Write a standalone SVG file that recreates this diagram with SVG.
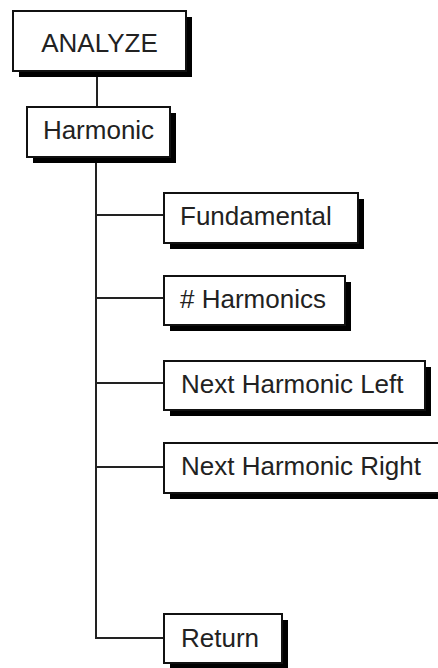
<svg xmlns="http://www.w3.org/2000/svg" width="438" height="668" viewBox="0 0 438 668">
<style>
.box{fill:#fff;stroke:#111;stroke-width:2}
.sh{fill:#000}
.t{font-family:"Liberation Sans",Arial,sans-serif;font-size:26px;fill:#222}
.c{stroke:#222;stroke-width:2;fill:none}
</style>
<rect width="438" height="668" fill="#fff"/>
<g id="connectors">
<line class="c" x1="97" y1="71" x2="97" y2="107"/>
<polyline class="c" points="96,157 96,638 164,638"/>
<line class="c" x1="96" y1="215" x2="164" y2="215"/>
<line class="c" x1="96" y1="298" x2="164" y2="298"/>
<line class="c" x1="96" y1="383" x2="164" y2="383"/>
<line class="c" x1="96" y1="467" x2="164" y2="467"/>
</g>
<g id="analyze">
<rect class="sh" x="19" y="17" width="173" height="60"/>
<rect class="box" x="13" y="11" width="173" height="60"/>
<text class="t" x="99.5" y="52" text-anchor="middle">ANALYZE</text>
</g>
<g id="harmonic">
<rect class="sh" x="33" y="113" width="143" height="50"/>
<rect class="box" x="27" y="107" width="143" height="50"/>
<text class="t" x="98.5" y="139" text-anchor="middle">Harmonic</text>
</g>
<g id="fundamental">
<rect class="sh" x="170" y="199" width="194" height="50"/>
<rect class="box" x="164" y="193" width="194" height="50"/>
<text class="t" x="180" y="225">Fundamental</text>
</g>
<g id="num-harmonics">
<rect class="sh" x="170" y="282" width="181" height="49"/>
<rect class="box" x="164" y="276" width="181" height="49"/>
<text class="t" x="180" y="308"># Harmonics</text>
</g>
<g id="next-left">
<rect class="sh" x="170" y="367" width="261" height="49"/>
<rect class="box" x="164" y="361" width="261" height="49"/>
<text class="t" x="181" y="393">Next Harmonic Left</text>
</g>
<g id="next-right">
<rect class="sh" x="170" y="449" width="280" height="50"/>
<rect class="box" x="164" y="443" width="280" height="50"/>
<text class="t" x="181" y="475">Next Harmonic Right</text>
</g>
<g id="return">
<rect class="sh" x="170" y="620" width="118" height="49"/>
<rect class="box" x="164" y="614" width="118" height="49"/>
<text class="t" x="181" y="647">Return</text>
</g>
</svg>
